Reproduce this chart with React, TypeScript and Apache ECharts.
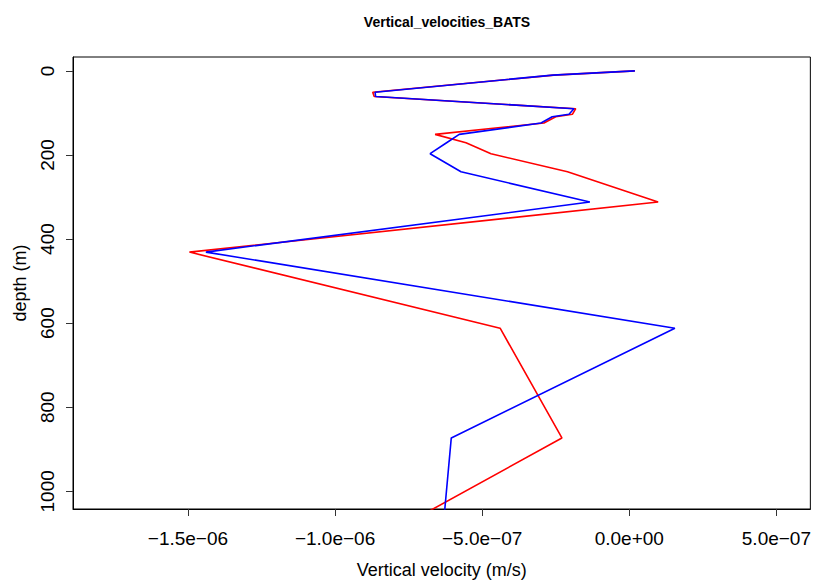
import React, { useEffect, useRef } from "react";
import * as echarts from "echarts";

const depths = [0, 10, 51, 61, 90, 103, 109, 124, 151, 171, 197, 240, 312, 431, 612, 873, 1050];
const redVelocity = [
  0.19e-7, -2.56e-7, -8.72e-7, -8.67e-7, -1.82e-7, -1.93e-7, -2.5e-7, -2.9e-7, -6.6e-7,
  -5.55e-7, -4.7e-7, -2.1e-7, 0.98e-7, -1.495e-6, -4.39e-7, -2.29e-7, -6.88e-7,
];
const blueVelocity = [
  0.19e-7, -2.6e-7, -8.64e-7, -8.62e-7, -1.88e-7, -2.05e-7, -2.62e-7, -3.0e-7, -5.78e-7,
  -6.21e-7, -6.77e-7, -5.72e-7, -1.34e-7, -1.439e-6, 1.55e-7, -6.05e-7, -6.28e-7,
];
const xTickValues = [-1.5e-6, -1.0e-6, -5.0e-7, 0, 5.0e-7];
const xTickLabels = ["\u22121.5e\u221206", "\u22121.0e\u221206", "\u22125.0e\u221207", "0.0e+00", "5.0e\u221207"];
const yTickValues = [0, 200, 400, 600, 800, 1000];

const FONT = "'Liberation Sans', Arial, Helvetica, sans-serif";

export default function App() {
  const ref = useRef<HTMLDivElement>(null);
  useEffect(() => {
    if (!ref.current) return;
    const chart = echarts.init(ref.current, undefined, { renderer: "svg" });
    const pairs = (vals: number[]) => vals.map((v, i) => [v, depths[i]]);
    chart.setOption({
      animation: false,
      backgroundColor: "#ffffff",
      title: {
        text: "Vertical_velocities_BATS",
        left: 442,
        textAlign: "center",
        top: 10,
        textStyle: { fontFamily: FONT, fontSize: 14, fontWeight: "bold", color: "#000" },
      },
      grid: {
        left: 73,
        top: 57,
        right: 2.5,
        bottom: 71.7,
        show: true,
        borderColor: "#000",
        borderWidth: 1,
        backgroundColor: "transparent",
        containLabel: false,
      },
      xAxis: {
        type: "value",
        min: -1.8907e-6,
        max: 6.154e-7,
        name: "Vertical velocity (m/s)",
        nameLocation: "middle",
        nameGap: 52,
        nameTextStyle: { fontFamily: FONT, fontSize: 18, color: "#000" },
        splitLine: { show: false },
        axisLine: { show: true, onZero: false, lineStyle: { color: "#000", width: 1 } },
        axisTick: {
          show: true,
          customValues: xTickValues,
          length: 7,
          inside: false,
          lineStyle: { color: "#333", width: 1 },
        },
        axisLabel: {
          customValues: xTickValues,
          margin: 20,
          fontFamily: FONT,
          fontSize: 19,
          color: "#000",
          formatter: (v: number) => {
            const i = xTickValues.findIndex((t) => Math.abs(t - v) < 1e-12);
            return i >= 0 ? xTickLabels[i] : "";
          },
        },
      },
      yAxis: {
        type: "value",
        inverse: true,
        min: -33,
        max: 1042,
        name: "depth (m)",
        nameLocation: "middle",
        nameGap: 44,
        nameRotate: 90,
        nameTextStyle: { fontFamily: FONT, fontSize: 18, color: "#000" },
        splitLine: { show: false },
        axisLine: { show: true, onZero: false, lineStyle: { color: "#000", width: 1 } },
        axisTick: {
          show: true,
          customValues: yTickValues,
          length: 7,
          lineStyle: { color: "#333", width: 1 },
        },
        axisLabel: {
          customValues: yTickValues,
          rotate: 90,
          margin: 16,
          fontFamily: FONT,
          fontSize: 19,
          color: "#000",
          formatter: (v: number) => String(v),
        },
      },
      series: [
        {
          type: "line",
          data: pairs(redVelocity),
          symbol: "none",
          lineStyle: { color: "#ff0000", width: 1.6 },
          clip: true,
        },
        {
          type: "line",
          data: pairs(blueVelocity),
          symbol: "none",
          lineStyle: { color: "#0000ff", width: 1.6 },
          clip: true,
        },
      ],
    });
    return () => chart.dispose();
  }, []);
  return (
    <div
      ref={ref}
      style={{ position: "fixed", left: 0, top: 0, width: 814, height: 584, background: "#fff" }}
    />
  );
}
